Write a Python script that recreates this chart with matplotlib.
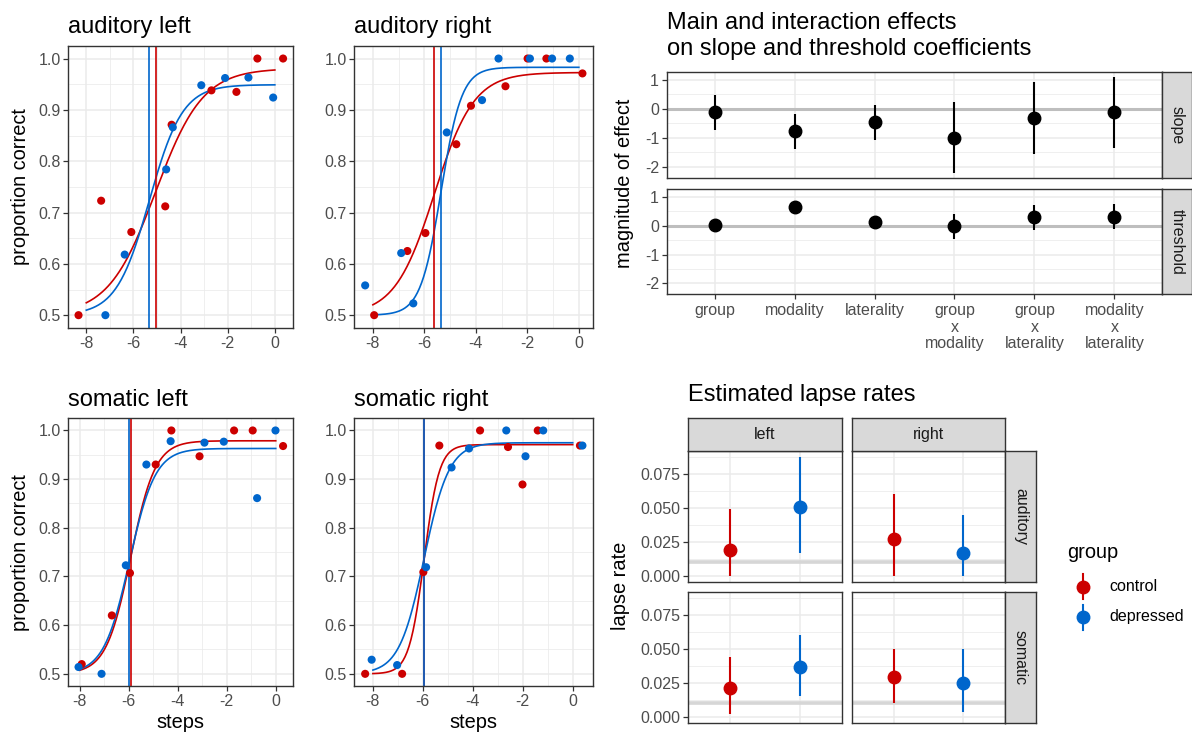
import numpy as np
import matplotlib.pyplot as plt
from matplotlib.lines import Line2D
from matplotlib.ticker import MultipleLocator, FormatStrFormatter

plt.rcParams['font.family'] = ['Liberation Sans', 'DejaVu Sans']

W, H = 1192, 738
RED = '#CC0000'
BLUE = '#0066CC'
GRID = '#EBEBEB'
DARK = '#333333'
TICKLAB = '#4D4D4D'

TITLE_SIZE = 17
AXTITLE_SIZE = 14.4
TICK_SIZE = 11.5

# psychometric data: steps and proportion correct per condition and group
aud_left_ctrl_x = [-8.33, -7.37, -6.09, -4.65, -4.38, -2.69, -1.63, -0.74, 0.35]
aud_left_ctrl_y = [0.500, 0.723, 0.662, 0.712, 0.871, 0.938, 0.935, 1.000, 1.000]
aud_left_dep_x = [-7.19, -6.37, -4.61, -4.33, -3.12, -2.11, -1.12, -0.07]
aud_left_dep_y = [0.500, 0.618, 0.784, 0.866, 0.948, 0.962, 0.963, 0.924]

aud_right_ctrl_x = [-7.95, -6.66, -5.96, -4.76, -4.19, -2.85, -1.99, -1.26, 0.14]
aud_right_ctrl_y = [0.500, 0.625, 0.660, 0.833, 0.908, 0.946, 1.000, 1.000, 0.971]
aud_right_dep_x = [-8.30, -6.90, -6.43, -5.13, -3.76, -3.12, -1.90, -1.04, -0.35]
aud_right_dep_y = [0.558, 0.621, 0.523, 0.856, 0.919, 1.000, 1.000, 1.000, 1.000]

som_left_ctrl_x = [-7.92, -6.69, -5.95, -4.90, -4.26, -3.11, -1.70, -0.94, 0.30]
som_left_ctrl_y = [0.520, 0.620, 0.707, 0.930, 1.000, 0.947, 1.000, 1.000, 0.968]
som_left_dep_x = [-8.05, -7.11, -6.12, -5.28, -4.29, -2.91, -2.12, -0.76, -0.01]
som_left_dep_y = [0.514, 0.500, 0.723, 0.930, 0.978, 0.975, 0.977, 0.861, 1.000]

som_right_ctrl_x = [-8.31, -6.83, -5.98, -5.34, -3.71, -2.59, -2.01, -1.40, 0.29]
som_right_ctrl_y = [0.500, 0.500, 0.709, 0.969, 1.000, 0.966, 0.889, 1.000, 0.969]
som_right_dep_x = [-8.05, -7.03, -5.87, -4.85, -4.15, -2.66, -1.89, -1.18, 0.39]
som_right_dep_y = [0.529, 0.518, 0.719, 0.924, 0.963, 1.000, 0.947, 1.000, 0.969]

panel_titles = ['auditory left', 'auditory right', 'somatic left', 'somatic right']

# fitted thresholds and slopes (order: aud left, aud right, som left, som right)
thr_ctrl = [-5.06, -5.61, -5.92, -5.95]
thr_dep = [-5.32, -5.35, -5.97, -5.95]
slope_ctrl = [1.0, 1.3, 2.0, 3.3]
slope_dep = [1.42, 2.5, 1.9, 2.0]

# lapse rate estimates with intervals (same order)
lapse_ctrl = [0.0193, 0.0272, 0.0212, 0.0291]
lapse_ctrl_lo = [0.0, 0.0, 0.0017, 0.0099]
lapse_ctrl_hi = [0.0495, 0.0604, 0.0444, 0.0503]
lapse_dep = [0.0510, 0.0171, 0.0370, 0.0252]
lapse_dep_lo = [0.0168, 0.0, 0.0153, 0.0035]
lapse_dep_hi = [0.0880, 0.0450, 0.0605, 0.0503]

# main and interaction effects
effects = ['group', 'modality', 'laterality', 'group\nx\nmodality',
           'group\nx\nlaterality', 'modality\nx\nlaterality']
eff_slope = [-0.12, -0.77, -0.46, -0.99, -0.30, -0.10]
eff_slope_lo = [-0.73, -1.38, -1.07, -2.21, -1.54, -1.36]
eff_slope_hi = [0.49, -0.18, 0.15, 0.25, 0.94, 1.10]
eff_thr = [0.02, 0.64, 0.14, -0.01, 0.29, 0.31]
eff_thr_lo = [-0.20, 0.56, 0.06, -0.47, -0.15, -0.11]
eff_thr_hi = [0.24, 0.73, 0.23, 0.39, 0.71, 0.74]

groups = ['control', 'depressed']
sides = ['left', 'right']
modalities = ['auditory', 'somatic']


def rect(x0, y0, x1, y1):
    return [x0 / W, 1 - y1 / H, (x1 - x0) / W, (y1 - y0) / H]


def fx(x):
    return x / W


def fy(y):
    return 1 - y / H


def expand(lo, hi, f=0.05):
    d = (hi - lo) * f
    return lo - d, hi + d


def style_axes(ax):
    ax.set_facecolor('white')
    for s in ax.spines.values():
        s.set_color(DARK)
        s.set_linewidth(1.0)
    ax.tick_params(which='major', length=3.5, width=0.9, color=DARK,
                   labelcolor=TICKLAB, labelsize=TICK_SIZE, pad=2)
    ax.tick_params(which='minor', length=0)
    ax.grid(which='major', color=GRID, lw=1.1)
    ax.grid(which='minor', color=GRID, lw=0.55)
    ax.set_axisbelow(True)


def add_strip(box, label, rotation=0):
    sax = fig.add_axes(rect(*box))
    sax.set_facecolor('#D9D9D9')
    sax.set_xticks([])
    sax.set_yticks([])
    for s in sax.spines.values():
        s.set_color(DARK)
        s.set_linewidth(1.0)
    sax.text(0.5, 0.5, label, transform=sax.transAxes, ha='center',
             va='center', rotation=rotation, fontsize=TICK_SIZE, color='#1A1A1A')


def logistic_curve(xs, thr, slope, lapse):
    return 0.5 + (0.5 - lapse) / (1 + np.exp(-slope * (xs - thr)))


fig = plt.figure(figsize=(W / 100, H / 100), dpi=100)

# ---- psychometric panels ----
psy_boxes = [(68.3, 45.7, 293.3, 328), (354.3, 45.7, 593.3, 328),
             (68.3, 418.3, 293.3, 686), (354.3, 418.3, 593.3, 686)]
psy_data = [
    (aud_left_ctrl_x, aud_left_ctrl_y, aud_left_dep_x, aud_left_dep_y),
    (aud_right_ctrl_x, aud_right_ctrl_y, aud_right_dep_x, aud_right_dep_y),
    (som_left_ctrl_x, som_left_ctrl_y, som_left_dep_x, som_left_dep_y),
    (som_right_ctrl_x, som_right_ctrl_y, som_right_dep_x, som_right_dep_y),
]
xs = np.linspace(-8, 0, 200)

for i, (box, (cx, cy, dx, dy)) in enumerate(zip(psy_boxes, psy_data)):
    ax = fig.add_axes(rect(*box))
    style_axes(ax)
    fits = [(thr_ctrl[i], slope_ctrl[i], lapse_ctrl[i], RED),
            (thr_dep[i], slope_dep[i], lapse_dep[i], BLUE)]
    for thr, sl, lp, col in fits:
        ax.plot(xs, logistic_curve(xs, thr, sl, lp), color=col, lw=1.2, zorder=2)
    for thr, sl, lp, col in fits:
        ax.axvline(thr, color=col, lw=1.2, zorder=2)
    ax.scatter(cx, cy, s=34, color=RED, edgecolors='none', zorder=3)
    ax.scatter(dx, dy, s=34, color=BLUE, edgecolors='none', zorder=3)

    allx = list(cx) + list(dx) + [-8, 0]
    ally = list(cy) + list(dy)
    ax.set_xlim(*expand(min(allx), max(allx)))
    ax.set_ylim(*expand(min(ally), max(ally)))
    ax.xaxis.set_minor_locator(MultipleLocator(1))
    ax.yaxis.set_major_locator(MultipleLocator(0.1))
    ax.yaxis.set_minor_locator(MultipleLocator(0.05))
    ax.yaxis.set_major_formatter(FormatStrFormatter('%.1f'))
    ax.set_xticks([-8, -6, -4, -2, 0])
    ax.set_xticklabels(['-8', '-6', '-4', '-2', '0'])
    if i % 2 == 0:
        ax.set_ylabel('proportion correct', fontsize=AXTITLE_SIZE, labelpad=6)
    if i >= 2:
        ax.set_xlabel('steps', fontsize=AXTITLE_SIZE, labelpad=3)
    ax.set_title(panel_titles[i], loc='left', fontsize=TITLE_SIZE, pad=9)

# ---- effects panels ----
eff_rows = [('slope', eff_slope, eff_slope_lo, eff_slope_hi, (666.7, 72.3, 1162.3, 177.7)),
            ('threshold', eff_thr, eff_thr_lo, eff_thr_hi, (666.7, 189, 1162.3, 294.3))]
pos = np.arange(1, len(effects) + 1)
all_lo = min(eff_slope_lo + eff_thr_lo)
all_hi = max(eff_slope_hi + eff_thr_hi)
eff_axes = []
for name, est, lo, hi, box in eff_rows:
    ax = fig.add_axes(rect(*box))
    style_axes(ax)
    ax.axhline(0, color='#BEBEBE', lw=2.2, zorder=1)
    ax.vlines(pos, lo, hi, color='black', lw=1.5, zorder=3)
    ax.plot(pos, est, 'o', color='black', ms=9, zorder=4)
    ax.set_xlim(0.4, len(effects) + 0.6)
    ax.set_ylim(*expand(all_lo, all_hi))
    ax.yaxis.set_major_locator(MultipleLocator(1))
    ax.yaxis.set_minor_locator(MultipleLocator(0.5))
    ax.yaxis.set_major_formatter(FormatStrFormatter('%d'))
    ax.set_xticks(pos)
    ax.grid(which='minor', axis='x', visible=False)
    add_strip((box[2], box[1], 1191.5, box[3]), name, rotation=-90)
    eff_axes.append(ax)

eff_axes[0].tick_params(axis='x', length=0, labelbottom=False)
eff_axes[1].set_xticklabels(effects, linespacing=1.13)
eff_axes[1].tick_params(axis='x', pad=3)
fig.text(fx(624), fy(183), 'magnitude of effect', rotation=90, ha='center',
         va='center', fontsize=AXTITLE_SIZE)
fig.text(fx(666.7), fy(36), 'Main and interaction effects\non slope and threshold coefficients',
         ha='left', va='center', fontsize=TITLE_SIZE, linespacing=1.2)

# ---- lapse rate panels ----
col_x = [(688.3, 841.7), (851.7, 1005)]
row_y = [(450.7, 581.7), (591.7, 722.7)]
lapse_lo_all = min(lapse_ctrl_lo + lapse_dep_lo)
lapse_hi_all = max(lapse_ctrl_hi + lapse_dep_hi)
for r in range(2):
    for c in range(2):
        k = r * 2 + c
        ax = fig.add_axes(rect(col_x[c][0], row_y[r][0], col_x[c][1], row_y[r][1]))
        style_axes(ax)
        ax.axhline(0.01, color='#D6D6D6', lw=2.6, zorder=1)
        vals = [(lapse_ctrl[k], lapse_ctrl_lo[k], lapse_ctrl_hi[k], RED),
                (lapse_dep[k], lapse_dep_lo[k], lapse_dep_hi[k], BLUE)]
        for j, (v, lo, hi, col) in enumerate(vals):
            ax.vlines(j + 1, lo, hi, color=col, lw=1.5, zorder=3)
            ax.plot(j + 1, v, 'o', color=col, ms=9, zorder=4)
        ax.set_xlim(0.4, 2.6)
        ax.set_ylim(*expand(lapse_lo_all, lapse_hi_all))
        ax.set_xticks([1, 2])
        ax.tick_params(axis='x', length=0, labelbottom=False)
        ax.yaxis.set_major_locator(MultipleLocator(0.025))
        ax.yaxis.set_minor_locator(MultipleLocator(0.0125))
        ax.yaxis.set_major_formatter(FormatStrFormatter('%.3f'))
        ax.grid(which='minor', axis='x', visible=False)
        if c == 1:
            ax.tick_params(axis='y', length=0, labelleft=False)

for c in range(2):
    add_strip((col_x[c][0], 418.3, col_x[c][1], 450.7), sides[c])
for r in range(2):
    add_strip((1005, row_y[r][0], 1036, row_y[r][1]), modalities[r], rotation=-90)

fig.text(fx(620.7), fy(586), 'lapse rate', rotation=90, ha='center', va='center',
         fontsize=AXTITLE_SIZE)
fig.text(fx(688.3), fy(395), 'Estimated lapse rates', ha='left', va='center',
         fontsize=TITLE_SIZE)

# legend for group colours
fig.text(fx(1067), fy(552), 'group', ha='left', va='center', fontsize=AXTITLE_SIZE)
for y, g, col in [(586.7, groups[0], RED), (617, groups[1], BLUE)]:
    fig.add_artist(Line2D([fx(1083), fx(1083)], [fy(y - 12.5), fy(y + 12.5)],
                          transform=fig.transFigure, color=col, lw=1.5))
    fig.add_artist(Line2D([fx(1083)], [fy(y)], transform=fig.transFigure,
                          marker='o', ms=9, color=col, ls='none'))
    fig.text(fx(1109), fy(y), g, ha='left', va='center', fontsize=TICK_SIZE)

fig.savefig('out.png', dpi=100, facecolor='white')
